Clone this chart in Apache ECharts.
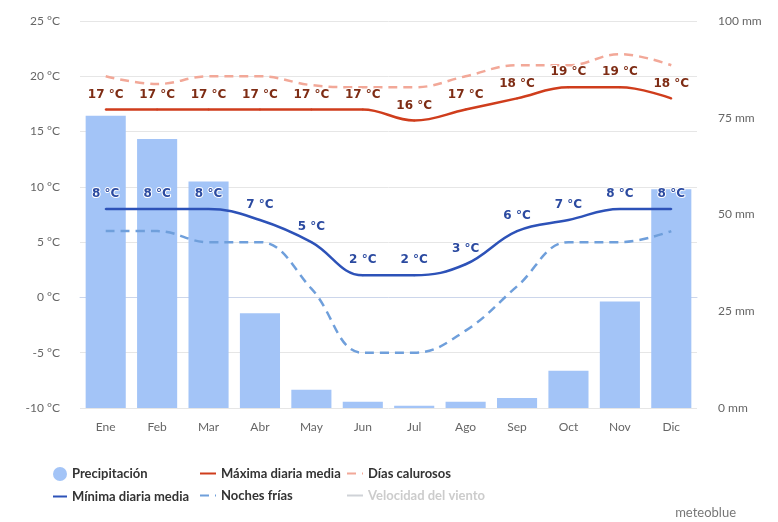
<!DOCTYPE html>
<html>
<head>
<meta charset="utf-8">
<script src="https://cdn.jsdelivr.net/npm/echarts@6/dist/echarts.min.js"></script>
<style>
  html, body { margin: 0; padding: 0; background: #fff; }
  #clima { width: 778px; height: 522px; }
</style>
</head>
<body>
<div id="clima"></div>
<script>
// datos
var meses = ['Ene', 'Feb', 'Mar', 'Abr', 'May', 'Jun', 'Jul', 'Ago', 'Sep', 'Oct', 'Nov', 'Dic'];
var precipitacion = [75.5, 69.5, 58.5, 24.5, 4.7, 1.6, 0.6, 1.6, 2.6, 9.6, 27.5, 56.5];
var maxima = [17, 17, 17, 17, 17, 17, 16, 17, 18, 19, 19, 18];
var calurosos = [20, 19.3, 20, 20, 19.2, 19, 19, 20, 21, 21, 22, 21];
var minima = [8, 8, 8, 7, 5, 2, 2, 3, 6, 7, 8, 8];
var frias = [6, 6, 5, 5, 0.8, -5, -5, -3, 1, 5, 5, 6];

var myChart = echarts.init(document.getElementById('clima'));

var fuente = 'Lato, "Noto Sans", sans-serif';

// etiqueta de valor encima de la línea
function etiqueta(color) {
    return {
        show: true,
        position: 'top',
        distance: 8,
        formatter: '{c} °C',
        color: color,
        fontSize: 12,
        fontWeight: 'bold',
        fontFamily: '"DejaVu Sans", sans-serif',
        textBorderColor: '#fff',
        textBorderWidth: 2
    };
}

// en la leyenda solo se ve el trazo, sin el punto
function linea(nombre) {
    return { name: nombre, itemStyle: { opacity: 0 } };
}

option = {
    animation: false,
    textStyle: { fontFamily: fuente },
    grid: {
        left: 80,
        right: 81,
        top: 21,
        bottom: 114
    },
    legend: [
        {
            orient: 'vertical', left: 47, top: 462, itemGap: 9,
            itemWidth: 14, itemHeight: 14,
            textStyle: { fontSize: 13, fontWeight: 'bold', color: '#333', fontFamily: fuente },
            data: [{ name: 'Precipitación', icon: 'circle' }, linea('Mínima diaria media')]
        },
        {
            orient: 'vertical', left: 194, top: 462, itemGap: 9,
            itemWidth: 16, itemHeight: 14,
            textStyle: { fontSize: 13, fontWeight: 'bold', color: '#333', fontFamily: fuente },
            data: [linea('Máxima diaria media'), linea('Noches frías')]
        },
        {
            orient: 'vertical', left: 341, top: 462, itemGap: 9,
            itemWidth: 16, itemHeight: 14,
            inactiveColor: '#ccc',
            textStyle: { fontSize: 13, fontWeight: 'bold', color: '#333', fontFamily: fuente },
            data: [linea('Días calurosos'), linea('Velocidad del viento')],
            selected: { 'Velocidad del viento': false }
        }
    ],
    xAxis: [
        {
            type: 'category',
            data: meses,
            axisTick: { show: false },
            axisLine: { lineStyle: { color: '#ccd6eb' } },
            axisLabel: { color: '#666', fontSize: 12, margin: 13 }
        }
    ],
    yAxis: [
        {
            type: 'value',
            min: -10,
            max: 25,
            interval: 5,
            axisLabel: { color: '#666', fontSize: 12, margin: 20, formatter: '{value} °C' },
            splitLine: { lineStyle: { color: '#e6e6e6' } }
        },
        {
            type: 'value',
            min: 0,
            max: 100,
            interval: 25,
            position: 'right',
            axisLabel: { color: '#666', fontSize: 12, margin: 21, formatter: '{value} mm' },
            splitLine: { show: false }
        }
    ],
    series: [
        {
            name: 'Precipitación',
            type: 'bar',
            yAxisIndex: 1,
            barCategoryGap: '22%',
            itemStyle: { color: '#a3c4f7' },
            data: precipitacion,
            z: 1
        },
        {
            name: 'Días calurosos',
            type: 'line',
            smooth: 0.4,
            symbol: 'none',
            lineStyle: { color: '#f2a898', width: 2.5, type: [9, 6] },
            itemStyle: { color: '#f2a898' },
            data: calurosos,
            z: 3
        },
        {
            name: 'Máxima diaria media',
            type: 'line',
            smooth: 0.4,
            symbol: 'circle',
            symbolSize: 2,
            lineStyle: { color: '#cf3d1c', width: 2.5 },
            itemStyle: { color: '#cf3d1c' },
            label: etiqueta('#7e2c14'),
            data: maxima,
            z: 4
        },
        {
            name: 'Noches frías',
            type: 'line',
            smooth: 0.4,
            symbol: 'none',
            lineStyle: { color: '#6f9fdb', width: 2.5, type: [9, 6] },
            itemStyle: { color: '#6f9fdb' },
            data: frias,
            z: 3
        },
        {
            name: 'Mínima diaria media',
            type: 'line',
            smooth: 0.4,
            symbol: 'circle',
            symbolSize: 2,
            lineStyle: { color: '#2d52b8', width: 2.5 },
            itemStyle: { color: '#2d52b8' },
            label: etiqueta('#2b4aa0'),
            data: minima,
            z: 4
        },
        {
            name: 'Velocidad del viento',
            type: 'line',
            symbol: 'none',
            lineStyle: { color: '#bbb', width: 2 },
            itemStyle: { color: '#bbb' },
            data: []
        }
    ],
    graphic: [
        {
            type: 'text',
            right: 42,
            top: 506,
            style: { text: 'meteoblue', fill: '#777', fontSize: 13, fontFamily: fuente }
        }
    ]
};

myChart.setOption(option);
</script>
</body>
</html>
